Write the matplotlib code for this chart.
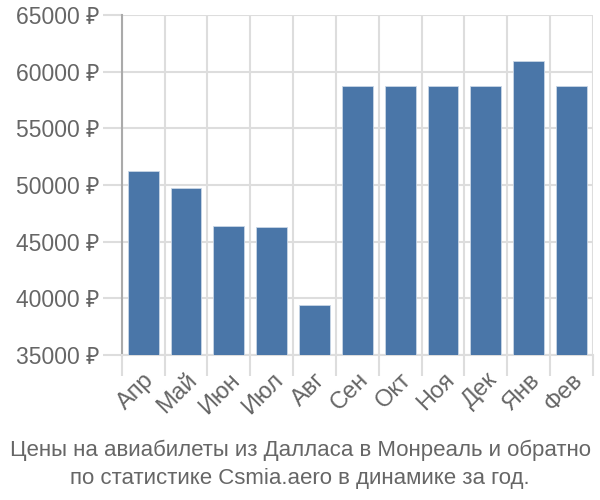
import numpy as np
import matplotlib
matplotlib.use('Agg')
import matplotlib.pyplot as plt

months = ['Апр', 'Май', 'Июн', 'Июл', 'Авг', 'Сен', 'Окт', 'Ноя', 'Дек', 'Янв', 'Фев']
prices = [51200, 49700, 46400, 46300, 39400, 58700, 58700, 58700, 58700, 60900, 58700]
yticks = [35000, 40000, 45000, 50000, 55000, 60000, 65000]
title = 'Цены на авиабилеты из Далласа в Монреаль и обратно\nпо статистике Csmia.aero в динамике за год.'

plt.rcParams['font.family'] = ['Liberation Sans', 'Noto Sans', 'DejaVu Sans']

text_color = '#666666'
grid_color = '#dddddd'
bar_color = '#4a76a8'

fig = plt.figure(figsize=(6, 5), dpi=100)
ax = fig.add_axes([0.203, 0.29, 0.785, 0.68])

x = np.arange(len(months))
ax.bar(x, prices, width=0.72, color=bar_color, edgecolor='#c8d6e6', linewidth=0.6, zorder=3)

ax.set_xlim(-0.5, len(months) - 0.5)
ax.set_ylim(35000, 65000)

# labels at bar centres, grid/ticks at category boundaries
ax.set_xticks(x)
ax.set_xticklabels(months, rotation=45, ha='right', rotation_mode='anchor',
                   fontsize=17, color=text_color)
ax.set_xticks(np.arange(len(months) + 1) - 0.5, minor=True)
ax.tick_params(axis='x', which='major', length=0, pad=10)
ax.tick_params(axis='x', which='minor', length=15, width=1.5, color=grid_color)
ax.grid(axis='x', which='minor', color=grid_color, linewidth=1.5, zorder=0)

ax.set_yticks(yticks)
ax.set_yticklabels([f'{v} ₽' for v in yticks], fontsize=16.5, color=text_color)
ax.tick_params(axis='y', length=14, width=1.5, color=grid_color, pad=2)
ax.grid(axis='y', color=grid_color, linewidth=1.5, zorder=0)

for s in ['top', 'right']:
    ax.spines[s].set_visible(False)
ax.spines['bottom'].set_color(grid_color)
ax.spines['bottom'].set_linewidth(1.5)
ax.spines['left'].set_color('#aaaaaa')
ax.spines['left'].set_linewidth(1.5)
ax.set_axisbelow(True)

fig.text(0.5, 0.022, title, ha='center', va='bottom', fontsize=16, color=text_color,
         linespacing=1.45)

fig.savefig('out.png', dpi=100)
